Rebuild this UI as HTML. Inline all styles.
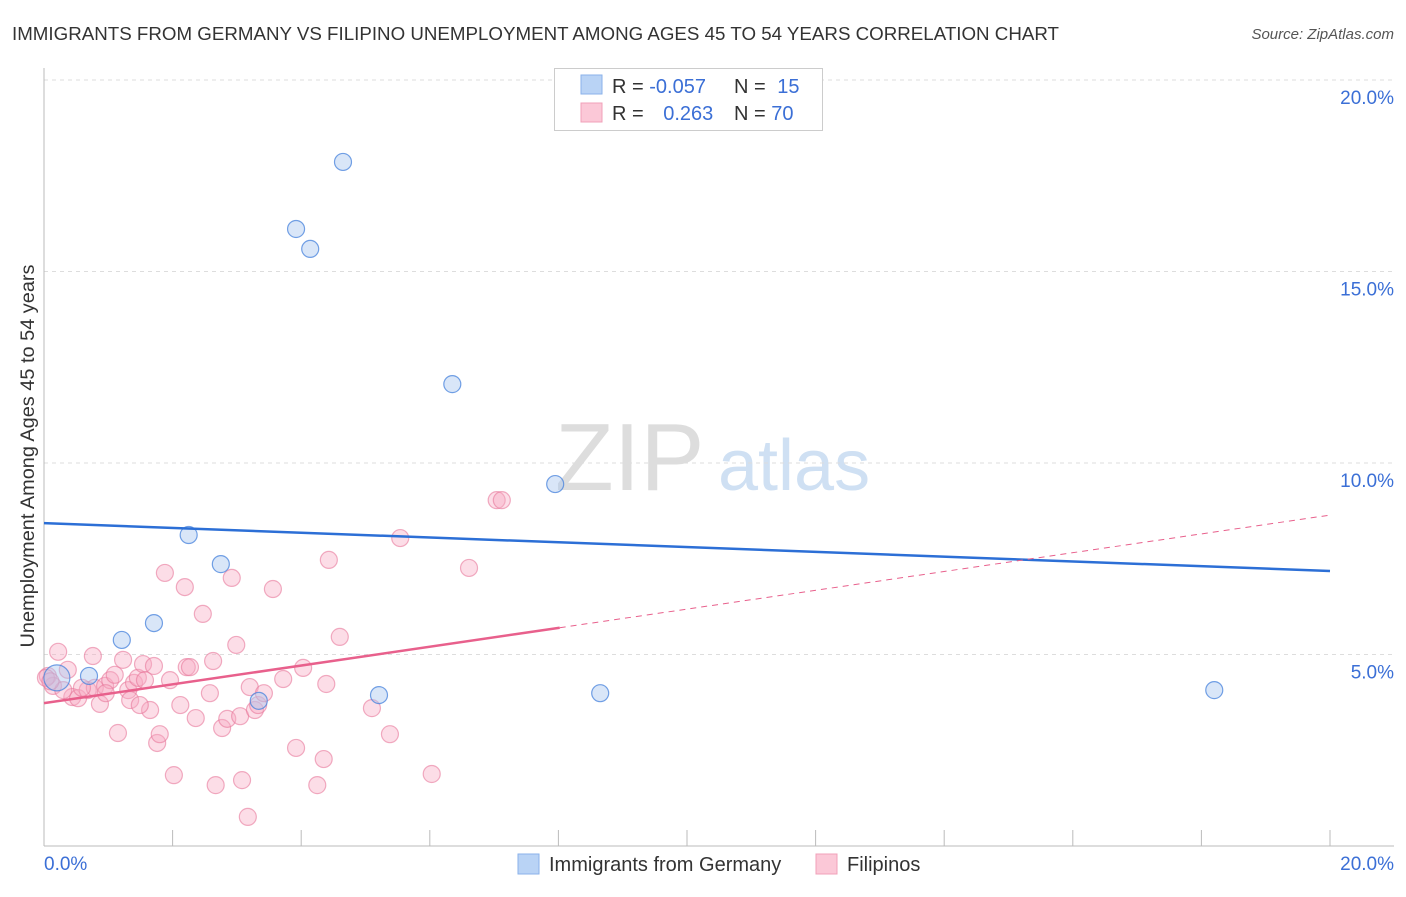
<!DOCTYPE html>
<html><head><meta charset="utf-8"><style>
body{margin:0;background:#fff;font-family:"Liberation Sans",sans-serif}
svg text{font-family:"Liberation Sans",sans-serif}
</style></head><body>
<svg id="chart" width="1406" height="892" xmlns="http://www.w3.org/2000/svg">
<text x="12" y="40" font-size="18.5" fill="#333" textLength="1047" lengthAdjust="spacingAndGlyphs">IMMIGRANTS FROM GERMANY VS FILIPINO UNEMPLOYMENT AMONG AGES 45 TO 54 YEARS CORRELATION CHART</text>
<text x="1394" y="39" font-size="15" fill="#555" text-anchor="end" font-style="italic">Source: ZipAtlas.com</text>
<g>
<text x="555" y="490" font-size="96" fill="#ddd" font-family="Liberation Serif">ZIP</text>
<text x="718" y="490" font-size="72" fill="#cfe0f3">atlas</text>
</g>
<g id="grid"></g><g id="axes"></g><g id="marks"></g>
<text transform="translate(34,456) rotate(-90)" font-size="19" fill="#333" text-anchor="middle" textLength="383" lengthAdjust="spacingAndGlyphs">Unemployment Among Ages 45 to 54 years</text>
<text x="44" y="870" font-size="19" fill="#3b6fd6">0.0%</text>
<text x="1394" y="870" font-size="19" fill="#3b6fd6" text-anchor="end">20.0%</text>
<g>
<rect x="554.5" y="68.5" width="268" height="62" fill="#fff" stroke="#ccc"/>
<rect x="581" y="75" width="21" height="19" fill="#b9d3f5" stroke="#8ab2ea"/>
<rect x="581" y="103" width="21" height="19" fill="#fbc8d7" stroke="#f0a0b8"/>
<text x="612" y="93" font-size="20" fill="#333">R = <tspan fill="#3b6fd6">-0.057</tspan></text>
<text x="734" y="93" font-size="20" fill="#333">N = <tspan fill="#3b6fd6" dx="6">15</tspan></text>
<text x="612" y="120" font-size="20" fill="#333">R = <tspan fill="#3b6fd6" dx="14">0.263</tspan></text>
<text x="734" y="120" font-size="20" fill="#333">N = <tspan fill="#3b6fd6">70</tspan></text>
</g>
<g>
<rect x="518" y="854" width="21" height="20" fill="#b9d3f5" stroke="#8ab2ea"/>
<text x="549" y="871" font-size="20" fill="#333">Immigrants from Germany</text>
<rect x="816" y="854" width="21" height="20" fill="#fbc8d7" stroke="#f0a0b8"/>
<text x="847" y="871" font-size="20" fill="#333">Filipinos</text>
</g>
</svg>
<script>
const yTicks=[5,10,15,20];
const yTickLabels=["5.0%","10.0%","15.0%","20.0%"];
const blueX=[4.65,3.92,4.14,6.35,7.95,2.25,2.75,1.71,1.21,0.70,0.20,3.34,5.21,8.65,18.20];
const blueY=[17.86,16.11,15.59,12.06,9.45,8.12,7.36,5.82,5.38,4.44,4.39,3.79,3.94,3.99,4.07];
const pinkX=[0.22,0.06,0.14,0.37,0.44,0.53,0.68,0.76,0.87,0.79,0.95,1.03,1.10,1.15,1.23,1.31,1.34,1.40,1.46,1.54,1.57,1.65,1.71,1.76,1.80,1.88,1.96,2.02,2.12,2.19,2.22,2.27,2.36,2.47,2.58,2.63,2.67,2.77,2.85,2.92,2.99,3.05,3.08,3.17,3.20,3.28,3.33,3.56,3.72,3.92,4.03,4.25,4.35,4.39,4.43,4.60,5.10,5.38,5.54,6.03,6.61,7.04,7.12,0.03,0.30,0.59,0.96,1.49,3.42,0.10];
const pinkY=[5.07,4.44,4.18,4.60,3.89,3.86,4.07,4.96,3.71,4.13,4.18,4.33,4.47,2.95,4.86,4.07,3.81,4.26,4.39,4.75,4.33,3.55,4.70,2.69,2.92,7.13,4.33,1.85,3.68,6.76,4.67,4.67,3.34,6.06,3.99,4.83,1.59,3.08,3.32,7.00,5.25,3.39,1.72,0.76,4.15,3.55,3.68,6.71,4.36,2.56,4.65,1.59,2.27,4.23,7.47,5.46,3.60,2.92,8.04,1.88,7.26,9.03,9.03,4.39,4.07,4.13,3.99,3.68,3.99,4.30];
const blueTrend=[8.43,7.18];
const pinkTrend=[3.73,8.64];
const pinkSolidEnd=8.02;
const X=v=>44+v/20*1286, Y=v=>846-v/5*191.5;
const NS="http://www.w3.org/2000/svg";
function mk(tag,attrs,parent){const e=document.createElementNS(NS,tag);for(const k in attrs)e.setAttribute(k,attrs[k]);document.getElementById(parent).appendChild(e);return e;}
yTicks.forEach((t,i)=>{
 const l=mk('line',{x1:44,x2:1394,y1:Y(t),y2:Y(t),stroke:'#ddd','stroke-dasharray':'4,4'},'grid');
 
 
 const tx=mk('text',{x:1394,y:Y(t)+24,'font-size':19,fill:'#3b6fd6','text-anchor':'end'},'grid');
 tx.textContent=yTickLabels[i];
 
 
});
let a=mk('line',{x1:44,x2:44,y1:68,y2:846,stroke:'#bbb'},'axes');


a=mk('line',{x1:44,x2:1394,y1:846,y2:846,stroke:'#bbb'},'axes');


for(let i=1;i<=10;i++){const t=mk('line',{x1:X(i*2),x2:X(i*2),y1:830,y2:846,stroke:'#bbb'},'axes');
 
 }
pinkX.forEach((x,i)=>{const c=mk('circle',{cx:X(x),cy:Y(pinkY[i]),r:8.5,fill:'rgba(248,170,195,0.4)',stroke:'rgba(232,120,155,0.6)','stroke-width':1.2},'marks');
 
 });
blueX.forEach((x,i)=>{const c=mk('circle',{cx:X(x),cy:Y(blueY[i]),r:i==10?13:8.5,fill:'rgba(170,200,240,0.45)',stroke:'rgba(70,130,220,0.75)','stroke-width':1.2},'marks');
 
 });
let tl=mk('line',{x1:X(0),y1:Y(blueTrend[0]),x2:X(20),y2:Y(blueTrend[1]),stroke:'#2c6fd6','stroke-width':2.5},'marks');


const py=x=>pinkTrend[0]+(pinkTrend[1]-pinkTrend[0])*x/20;
tl=mk('line',{x1:X(0),y1:Y(pinkTrend[0]),x2:X(pinkSolidEnd),y2:Y(py(pinkSolidEnd)),stroke:'#e8608c','stroke-width':2.5},'marks');


tl=mk('line',{x1:X(pinkSolidEnd),y1:Y(py(pinkSolidEnd)),x2:X(20),y2:Y(pinkTrend[1]),stroke:'#e8608c','stroke-width':1,'stroke-dasharray':'6,5'},'marks');


</script>
</body></html>
